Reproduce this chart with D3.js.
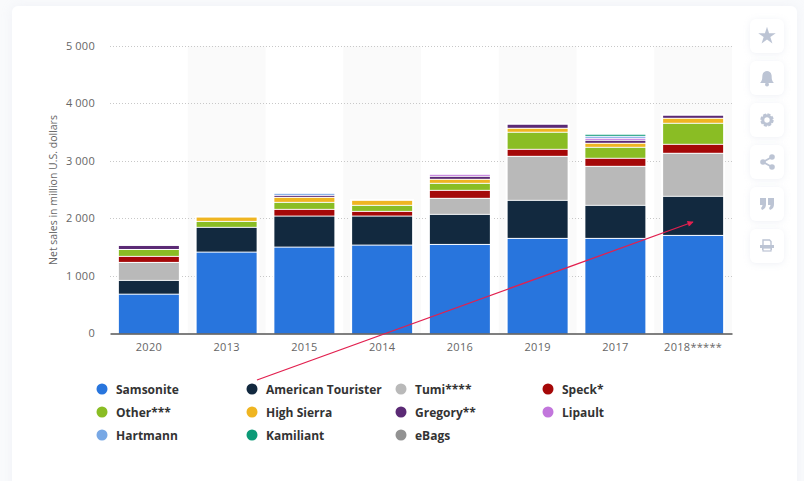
<!DOCTYPE html>
<html lang="en">
<head>
<meta charset="UTF-8">
<title>Net sales by brand</title>
<script src="https://d3js.org/d3.v7.min.js"></script>
<style>
    html, body { margin: 0; padding: 0; width: 804px; height: 481px; overflow: hidden; background: #f9fafc; }
    #card { position: absolute; left: 12px; top: 6px; width: 785px; height: 500px; background: #fff; border-radius: 6px; box-shadow: 0 0 12px rgba(190,200,220,0.16); }
    .btn { position: absolute; left: 750px; width: 34px; height: 34px; background: #fff; border-radius: 6px; box-shadow: 0 1px 6px rgba(190,200,220,0.25); }
    svg { position: absolute; left: 0; top: 0; }
    text { font-family: "Open Sans", sans-serif; }
</style>
</head>
<body>
<div id="card"></div>
<div id="chart"></div>

<script>
    const years = ["2020", "2013", "2015", "2014", "2016", "2019", "2017", "2018*****"];
    const brands = ["Samsonite", "American Tourister", "Tumi****", "Speck*", "Other***", "High Sierra", "Gregory**", "Lipault", "Hartmann", "Kamiliant", "eBags"];
    const colors = ["#2875dd", "#12293f", "#b9b9b9", "#a50808", "#8abd24", "#efb521", "#5b2a75", "#c276dc", "#78a8e5", "#0c9a77", "#929292"];

    const samsonite = [672, 1404, 1491, 1526, 1538, 1643, 1643, 1695];
    const americanTourister = [240, 431, 540, 505, 523, 662, 575, 680];
    const tumi = [313, 0, 0, 0, 279, 766, 679, 749];
    const speck = [105, 0, 117, 82, 139, 122, 140, 156];
    const other = [120, 104, 122, 105, 122, 297, 191, 366];
    const highSierra = [0, 75, 87, 87, 70, 69, 70, 87];
    const gregory = [70, 0, 35, 0, 52, 70, 52, 53];
    const lipault = [0, 0, 0, 0, 35, 0, 35, 0];
    const hartmann = [0, 0, 35, 0, 0, 0, 35, 0];
    const kamiliant = [0, 0, 0, 0, 0, 0, 35, 0];
    const ebags = [0, 0, 0, 0, 0, 0, 0, 0];
    const seriesValues = [samsonite, americanTourister, tumi, speck, other, highSierra, gregory, lipault, hartmann, kamiliant, ebags];

    const yTicks = [0, 1000, 2000, 3000, 4000, 5000];
    const yTitle = "Net sales in million U.S. dollars";

    const svg = d3.select("#chart").append("svg").attr("width", 804).attr("height", 481);

    const x = d3.scaleBand().domain(years).range([110, 732]);
    const y = d3.scaleLinear().domain([0, 5000]).range([333.3, 46]);
    const barWidth = 60;
    const barX = d => x(d) + (x.bandwidth() - barWidth) / 2;

    // alternate column shading
    svg.selectAll("rect.band")
        .data(years.filter((d, i) => i % 2 == 1))
        .enter().append("rect")
        .attr("class", "band")
        .attr("x", d => x(d))
        .attr("y", y(5000))
        .attr("width", x.bandwidth())
        .attr("height", y(0) - y(5000))
        .attr("fill", "#fafafa");

    // grid
    svg.selectAll("line.grid")
        .data(yTicks.filter(d => d > 0))
        .enter().append("line")
        .attr("class", "grid")
        .attr("x1", 110).attr("x2", 732)
        .attr("y1", d => Math.round(y(d)) + 0.5).attr("y2", d => Math.round(y(d)) + 0.5)
        .attr("stroke", "#c8c8c8")
        .attr("stroke-dasharray", "1 2");

    // y axis, no line, just the labels
    const yAxis = svg.append("g").attr("transform", "translate(110,0)")
        .call(d3.axisLeft(y).tickValues(yTicks).tickSize(0).tickPadding(15)
            .tickFormat(d => d3.format(",")(d).replace(",", " ")));
    yAxis.select(".domain").remove();
    yAxis.selectAll("text").attr("fill", "#666").attr("font-size", 11)
        .style("letter-spacing", "0.3px").style("word-spacing", "-0.5px");

    svg.append("text")
        .attr("transform", "translate(57,190) rotate(-90)")
        .attr("text-anchor", "middle")
        .attr("fill", "#666")
        .attr("font-size", 10.5)
        .text(yTitle);

    // stack
    const rows = years.map((year, i) => {
        const row = { year: year };
        brands.forEach((b, s) => { row[b] = seriesValues[s][i]; });
        return row;
    });
    const stacked = d3.stack().keys(brands)(rows);
    const totals = years.map((year, i) => d3.sum(seriesValues, s => s[i]));

    // white halo round the full bar
    svg.selectAll("rect.halo")
        .data(years)
        .enter().append("rect")
        .attr("class", "halo")
        .attr("x", d => barX(d) - 2)
        .attr("y", (d, i) => y(totals[i]) - 2)
        .attr("width", barWidth + 4)
        .attr("height", (d, i) => y(0) - y(totals[i]) + 2)
        .attr("fill", "#fff");

    const groups = svg.selectAll("g.series")
        .data(stacked)
        .enter().append("g")
        .attr("class", "series")
        .attr("fill", (d, i) => colors[i]);

    // 1px white gap between segments, none above the axis
    groups.selectAll("rect")
        .data(d => d.filter(p => p[1] > p[0]))
        .enter().append("rect")
        .attr("x", d => barX(d.data.year))
        .attr("y", d => y(d[1]))
        .attr("width", barWidth)
        .attr("height", d => d[0] == 0 ? y(0) - y(d[1]) : Math.max(y(d[0]) - y(d[1]) - 1, 1));

    // x axis
    const xAxis = svg.append("g").attr("transform", "translate(0,333.5)")
        .call(d3.axisBottom(x).tickSize(0).tickPadding(10));
    xAxis.select(".domain").attr("stroke", "#000").attr("stroke-width", 1);
    xAxis.selectAll("text").attr("fill", "#666").attr("font-size", 11).style("letter-spacing", "0.3px");

    // legend
    const legendX = d3.scaleOrdinal().domain([0, 1, 2, 3]).range([102, 252, 401, 548]);
    const legendY = d3.scaleOrdinal().domain([0, 1, 2]).range([389, 412, 435]);
    const legend = svg.selectAll("g.legend")
        .data(brands)
        .enter().append("g")
        .attr("class", "legend")
        .attr("transform", (d, i) => `translate(${legendX(i % 4)},${legendY(Math.floor(i / 4))})`);
    legend.append("circle").attr("r", 5.5).attr("fill", (d, i) => colors[i]);
    legend.append("text")
        .attr("x", 14).attr("y", 4.5)
        .attr("font-size", 12)
        .attr("font-weight", 700)
        .attr("fill", "#333")
        .text(d => d);

    // red annotation arrow
    const defs = svg.append("defs");
    defs.append("marker")
        .attr("id", "head").attr("viewBox", "0 0 10 10")
        .attr("refX", 9).attr("refY", 5)
        .attr("markerWidth", 9).attr("markerHeight", 6)
        .attr("markerUnits", "userSpaceOnUse")
        .attr("orient", "auto")
        .append("path").attr("d", "M0,0 L10,5 L0,10 Z").attr("fill", "#e2204f");
    svg.append("line")
        .attr("x1", 257).attr("y1", 380)
        .attr("x2", 693).attr("y2", 222)
        .attr("stroke", "#e2204f")
        .attr("stroke-width", 1.3)
        .attr("marker-end", "url(#head)");

    // side buttons
    const btnTops = [19, 61, 103, 145, 187, 229];
    d3.select("body").selectAll("div.btn")
        .data(btnTops)
        .enter().append("div")
        .attr("class", "btn")
        .style("top", d => d + "px");

    const iconColor = "#bcc4d4";
    const icons = d3.select("body").append("svg")
        .attr("width", 804).attr("height", 481)
        .selectAll("g")
        .data(btnTops)
        .enter().append("g")
        .attr("transform", d => `translate(767,${d + 17})`)
        .attr("fill", iconColor);

    icons.filter((d, i) => i == 0).append("path")
        .attr("d", d3.symbol(d3.symbolStar, 95));
    const bell = icons.filter((d, i) => i == 1);
    bell.append("path").attr("d", "M-7,5 C-4,2 -5,-1 -4.5,-3 C-4,-6 -2,-7 0,-7 C2,-7 4,-6 4.5,-3 C5,-1 4,2 7,5 Z");
    bell.append("circle").attr("cy", 6.5).attr("r", 2);
    const gear = icons.filter((d, i) => i == 2);
    gear.append("circle").attr("r", 4.2).attr("fill", "none").attr("stroke", iconColor).attr("stroke-width", 3);
    gear.append("circle").attr("r", 5).attr("fill", "none").attr("stroke", iconColor).attr("stroke-width", 3.4).attr("stroke-dasharray", "2.6 1.3");
    const share = icons.filter((d, i) => i == 3);
    share.append("path").attr("d", "M5,-5 L-4,0 L5,5").attr("fill", "none").attr("stroke", iconColor).attr("stroke-width", 1.8);
    share.append("circle").attr("cx", 5).attr("cy", -5).attr("r", 2.8);
    share.append("circle").attr("cx", -4).attr("cy", 0).attr("r", 2.8);
    share.append("circle").attr("cx", 5).attr("cy", 5).attr("r", 2.8);
    const quote = icons.filter((d, i) => i == 4);
    quote.append("path").attr("d", "M-7,-6 H-1 V0 C-1,3 -2,5 -5,6 L-6,4 C-5,3 -4.5,2 -4.5,1 H-7 Z");
    quote.append("path").attr("d", "M1,-6 H7 V0 C7,3 6,5 3,6 L2,4 C3,3 3.5,2 3.5,1 H1 Z");
    const printer = icons.filter((d, i) => i == 5);
    printer.append("path").attr("d", "M-4,-1 V-6 H2.5 L4,-4.5 V-1").attr("fill", "none").attr("stroke", iconColor).attr("stroke-width", 1.4);
    printer.append("path").attr("d", "M-7,-1 H7 V2 H5 V4 H-5 V2 H-7 Z");
    printer.append("rect").attr("x", -4).attr("y", 2).attr("width", 8).attr("height", 3).attr("fill", "#fff").attr("stroke", iconColor).attr("stroke-width", 1.2);
</script>
</body>
</html>
